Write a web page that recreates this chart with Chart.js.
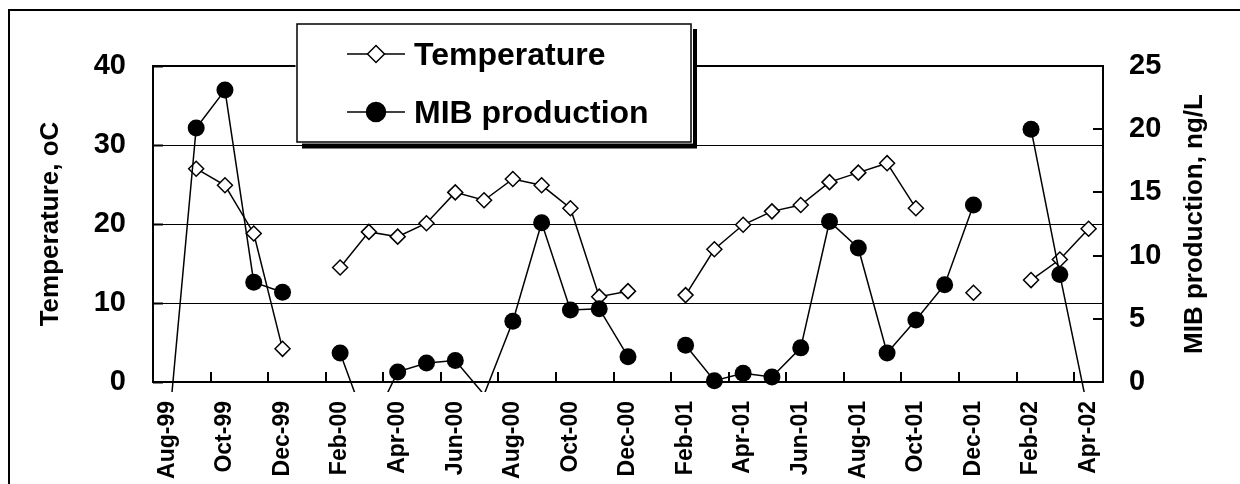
<!DOCTYPE html>
<html>
<head>
<meta charset="utf-8">
<script src="https://cdn.jsdelivr.net/npm/chart.js@4/dist/chart.umd.min.js"></script>
<style>
  html, body { margin: 0; padding: 0; background: #fff; }
  canvas { display: block; }
</style>
</head>
<body>
<canvas id="chart" width="1240" height="484"></canvas>
<script>
// monthly samples, Aug 1999 - Apr 2002
const months = [
  'Aug-99', 'Sep-99', 'Oct-99', 'Nov-99', 'Dec-99', 'Jan-00', 'Feb-00', 'Mar-00',
  'Apr-00', 'May-00', 'Jun-00', 'Jul-00', 'Aug-00', 'Sep-00', 'Oct-00', 'Nov-00',
  'Dec-00', 'Jan-01', 'Feb-01', 'Mar-01', 'Apr-01', 'May-01', 'Jun-01', 'Jul-01',
  'Aug-01', 'Sep-01', 'Oct-01', 'Nov-01', 'Dec-01', 'Jan-02', 'Feb-02', 'Mar-02',
  'Apr-02'
];
const labelEvery = 2;

// water temperature, oC
const temperature = [
  null, 27.0, 24.9, 18.8, 4.2, null, 14.5, 19.0,
  18.4, 20.1, 24.0, 23.0, 25.7, 24.9, 22.0, 10.8,
  11.5, null, 11.0, 16.8, 19.9, 21.6, 22.4, 25.3,
  26.5, 27.7, 22.0, null, 11.3, null, 12.9, 15.5,
  19.4
];

// MIB production, ng/L
const mib = [
  -4.8, 20.1, 23.1, 7.9, 7.1, null, 2.3, -3.9,
  0.8, 1.5, 1.7, -1.0, 4.8, 12.6, 5.7, 5.8,
  2.0, null, 2.9, 0.1, 0.7, 0.4, 2.7, 12.7,
  10.6, 2.3, 4.9, 7.7, 14.0, null, 20.0, 8.5,
  -2.5
];

const tempAxis = { min: 0, max: 40, step: 10 };
const mibAxis = { min: 0, max: 25, step: 5 };

const FONT = "'Liberation Sans', Arial, Helvetica, sans-serif";
Chart.defaults.color = '#000';
Chart.defaults.font.family = FONT;

// plot frame plus the short inward tick marks
const framePlugin = {
  id: 'frame',
  afterDatasetsDraw(chart) {
    const { ctx, chartArea: a, scales } = chart;
    ctx.save();
    ctx.strokeStyle = '#000';
    ctx.lineWidth = 2;
    ctx.beginPath();
    for (let i = labelEvery; i < months.length; i += labelEvery) {
      const x = Math.round((scales.x.getPixelForValue(i - 1) + scales.x.getPixelForValue(i)) / 2);
      ctx.moveTo(x, a.bottom);
      ctx.lineTo(x, a.bottom - 10);
    }
    scales.y.ticks.forEach(t => {
      const y = Math.round(scales.y.getPixelForValue(t.value)) + 0.5;
      ctx.moveTo(a.left, y);
      ctx.lineTo(a.left + 10, y);
    });
    scales.y2.ticks.forEach(t => {
      const y = Math.round(scales.y2.getPixelForValue(t.value));
      ctx.moveTo(a.right, y);
      ctx.lineTo(a.right - 10, y);
    });
    ctx.stroke();
    ctx.strokeRect(a.left, a.top, a.right - a.left, a.bottom - a.top);

    // right-hand title, read bottom to top like the left one
    const t2 = chart.options.scales.y2.title;
    ctx.save();
    ctx.translate(1202, (a.top + a.bottom) / 2);
    ctx.rotate(-Math.PI / 2);
    ctx.font = 'bold 26px ' + FONT;
    ctx.fillStyle = '#000';
    ctx.textAlign = 'center';
    ctx.textBaseline = 'alphabetic';
    ctx.fillText(t2.text, 0, 0);
    ctx.restore();
    ctx.restore();
  }
};

// boxed legend with drop shadow, and the outer figure border
const legendPlugin = {
  id: 'boxLegend',
  afterDraw(chart) {
    const { ctx } = chart;
    const box = { x: 297, y: 24, w: 394, h: 118 };
    ctx.save();
    ctx.fillStyle = '#000';
    ctx.fillRect(box.x + 5, box.y + 5, box.w + 1, box.h + 1.5);
    ctx.fillStyle = '#fff';
    ctx.fillRect(box.x - 1.5, box.y - 1.5, box.w + 3.5, box.h + 3);
    ctx.strokeStyle = '#000';
    ctx.lineWidth = 1.5;
    ctx.strokeRect(box.x, box.y, box.w, box.h);

    const rows = [
      { ds: chart.data.datasets[1], y: 54 },
      { ds: chart.data.datasets[0], y: 112 }
    ];
    rows.forEach(({ ds, y }) => {
      ctx.lineWidth = 1.5;
      ctx.beginPath();
      ctx.moveTo(347, y);
      ctx.lineTo(405, y);
      ctx.stroke();
      const cx = 376;
      ctx.beginPath();
      if (ds.pointStyle === 'rectRot') {
        const r = 8.5;
        ctx.moveTo(cx - r, y);
        ctx.lineTo(cx, y - r);
        ctx.lineTo(cx + r, y);
        ctx.lineTo(cx, y + r);
        ctx.closePath();
      } else {
        ctx.arc(cx, y, 9.5, 0, Math.PI * 2);
      }
      ctx.fillStyle = ds.pointBackgroundColor;
      ctx.fill();
      ctx.stroke();
      ctx.fillStyle = '#000';
      ctx.font = 'bold 32px ' + FONT;
      ctx.textBaseline = 'alphabetic';
      ctx.textAlign = 'left';
      ctx.fillText(ds.label, 414, y + 11);
    });

    ctx.lineWidth = 2;
    ctx.strokeRect(9, 10, 1400, 700);
    ctx.restore();
  }
};

new Chart(document.getElementById('chart'), {
  type: 'line',
  data: {
    labels: months,
    datasets: [
      {
        label: 'MIB production',
        data: mib,
        yAxisID: 'y2',
        order: 0,
        borderColor: '#000',
        borderWidth: 1.5,
        pointStyle: 'circle',
        pointRadius: c => (c.raw < 0 ? 0 : 8.5),
        pointBackgroundColor: '#000',
        pointBorderColor: '#000',
        pointBorderWidth: 0,
        tension: 0,
        spanGaps: false,
        clip: { left: 0, top: 0, right: 0, bottom: 10 }
      },
      {
        label: 'Temperature',
        data: temperature,
        yAxisID: 'y',
        order: 1,
        borderColor: '#000',
        borderWidth: 1.5,
        pointStyle: 'rectRot',
        pointRadius: 7.5,
        pointBackgroundColor: '#fff',
        pointBorderColor: '#000',
        pointBorderWidth: 1.5,
        tension: 0,
        spanGaps: false,
        clip: { left: 0, top: 0, right: 0, bottom: 10 }
      }
    ]
  },
  options: {
    responsive: false,
    animation: false,
    devicePixelRatio: 1,
    layout: { padding: { top: 66, left: 0, right: 0, bottom: 0 } },
    plugins: {
      legend: { display: false },
      tooltip: { enabled: false }
    },
    scales: {
      x: {
        type: 'category',
        offset: true,
        grid: { display: false, drawTicks: false, offset: true },
        border: { display: false },
        ticks: {
          autoSkip: false,
          minRotation: 90,
          maxRotation: 90,
          padding: 19,
          font: { size: 23, weight: 'bold' },
          callback: (v, i) => (i % labelEvery === 0 ? months[i] : '')
        },
        afterFit: s => { s.height = 102; }
      },
      y: {
        position: 'left',
        min: tempAxis.min,
        max: tempAxis.max,
        grid: { color: '#000', lineWidth: 1, drawTicks: false },
        border: { display: false },
        ticks: { stepSize: tempAxis.step, padding: 27, font: { size: 29, weight: 'bold' } },
        title: {
          display: true,
          text: 'Temperature, oC',
          font: { size: 26, weight: 'bold' },
          padding: { top: 35, bottom: 0 }
        },
        afterFit: s => { s.width = 153; }
      },
      y2: {
        position: 'right',
        min: mibAxis.min,
        max: mibAxis.max,
        grid: { drawOnChartArea: false, drawTicks: false },
        border: { display: false },
        ticks: { stepSize: mibAxis.step, padding: 26, font: { size: 29, weight: 'bold' } },
        title: {
          display: false,
          text: 'MIB production, ng/L'
        },
        afterFit: s => { s.width = 137; }
      }
    }
  },
  plugins: [framePlugin, legendPlugin]
});
</script>
</body>
</html>
